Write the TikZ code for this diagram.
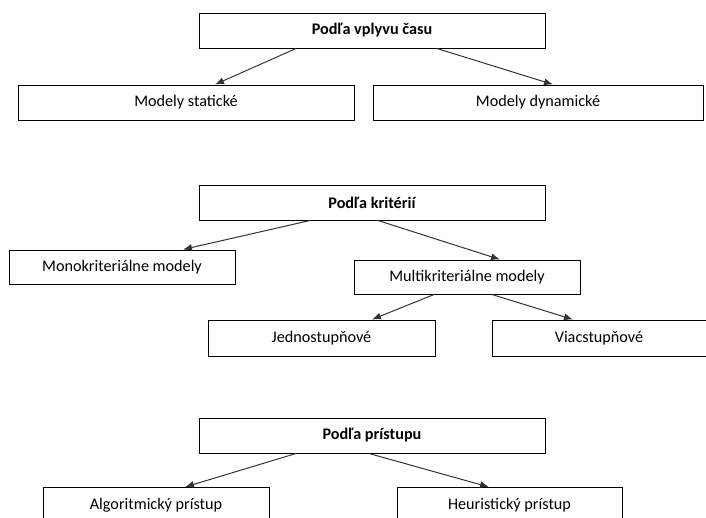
\documentclass[tikz,border=0pt]{standalone}
\usepackage{fontspec}
\setmainfont{Carlito}
\usetikzlibrary{arrows.meta}
\begin{document}
\begin{tikzpicture}[x=1pt,y=-1pt,
  box/.style={draw=black, line width=1pt, fill=white, inner sep=0pt,
    font=\fontsize{16.2}{19}\selectfont, text=black},
  head/.style={box, font=\fontsize{16.2}{19}\selectfont\bfseries},
  arr/.style={draw=black!80, line width=1pt, -{Latex[length=9pt,width=7pt]}}]
\useasboundingbox (0,0) rectangle (706,517);
\clip (0,0) rectangle (706,517);
% time influence
\node[head, minimum width=346pt, minimum height=35pt] (a) at (372,30.5) {Podľa vplyvu času};
\node[box, minimum width=336pt, minimum height=35pt] (a1) at (186,102.5) {Modely statické};
\node[box, minimum width=330pt, minimum height=35pt] (a2) at (538,102.5) {Modely dynamické};
\draw[arr] ([xshift=-76pt]a.south) -- ([xshift=29pt]a1.north);
\draw[arr] ([xshift=65pt]a.south) -- ([xshift=15pt]a2.north);
% criteria
\node[head, minimum width=346pt, minimum height=35pt] (b) at (372,202.5) {Podľa kritérií};
\node[box, minimum width=226pt, minimum height=34pt] (b1) at (122,267) {Monokriteriálne modely};
\node[box, minimum width=226pt, minimum height=34pt] (b2) at (467,277) {Multikriteriálne modely};
\node[box, minimum width=227pt, minimum height=36pt] (b21) at (321.5,338) {Jednostupňové};
\node[box, minimum width=214pt, minimum height=36pt] (b22) at (599,338) {Viacstupňové};
\draw[arr] ([xshift=-62pt]b.south) -- ([xshift=61pt]b1.north);
\draw[arr] ([xshift=6pt]b.south) -- ([xshift=33pt]b2.north);
\draw[arr] ([xshift=-33pt]b2.south) -- ([xshift=50.5pt]b21.north);
\draw[arr] ([xshift=25pt]b2.south) -- ([xshift=-26pt]b22.north);
% approach
\node[head, minimum width=346pt, minimum height=35pt] (c) at (372,435.5) {Podľa prístupu};
\node[box, minimum width=226pt, minimum height=36pt, anchor=north] (c1) at (156,487) {Algoritmický prístup};
\node[box, minimum width=225pt, minimum height=36pt, anchor=north] (c2) at (509.5,487) {Heuristický prístup};
\draw[arr] ([xshift=-76pt]c.south) -- ([xshift=29pt]c1.north);
\draw[arr] ([xshift=-3pt]c.south) -- ([xshift=-20.5pt]c2.north);
\end{tikzpicture}
\end{document}
